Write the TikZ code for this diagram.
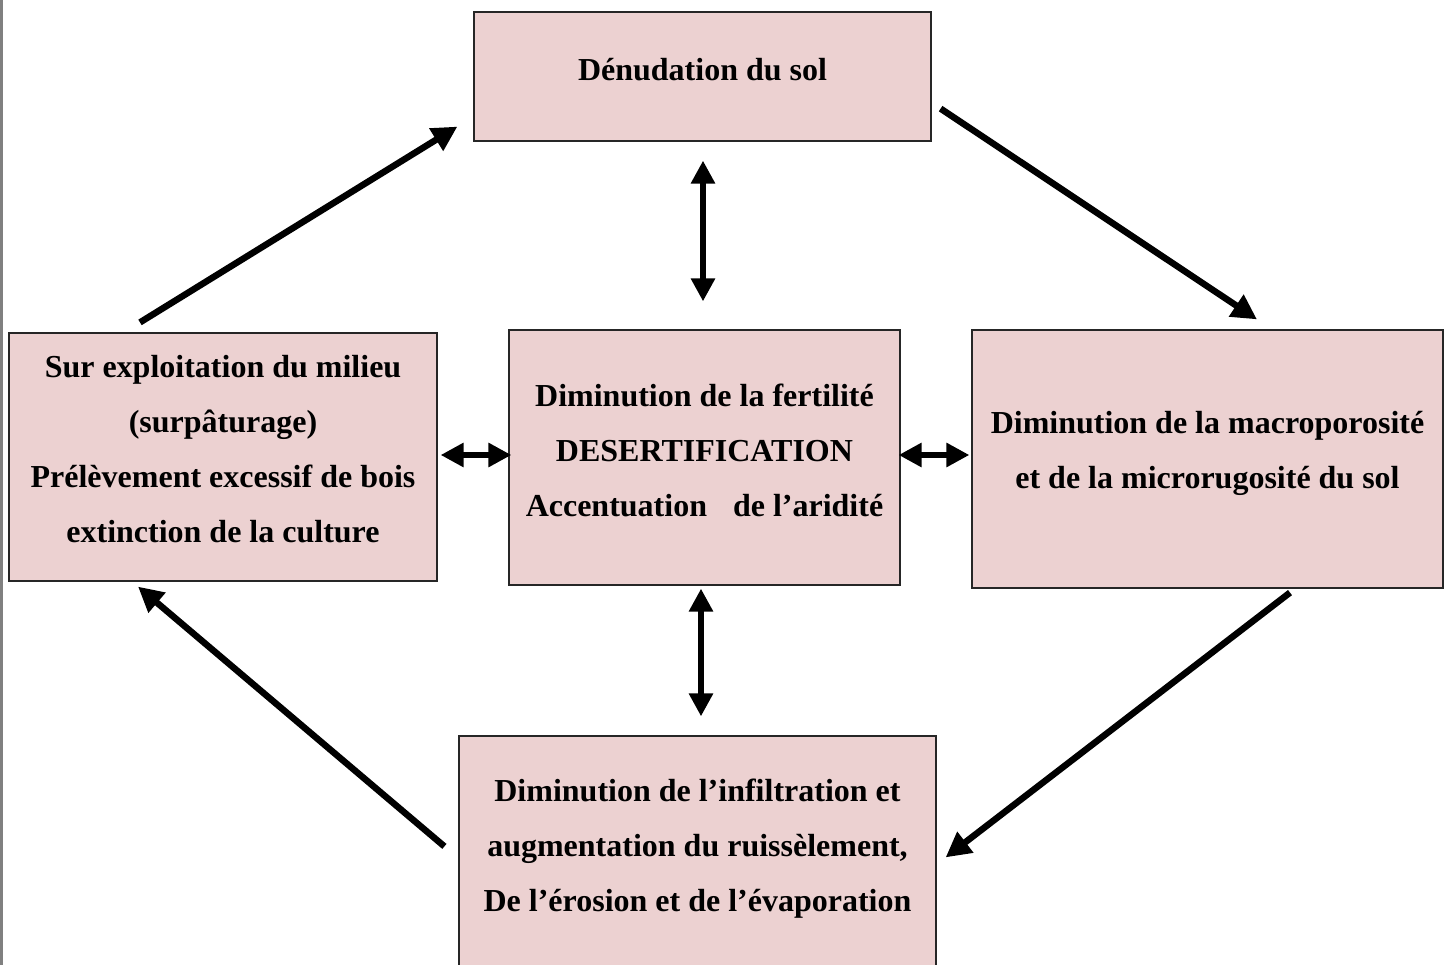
\documentclass[tikz,border=0pt]{standalone}
\usepackage{fontspec}
\setmainfont{Liberation Serif}
\usetikzlibrary{arrows.meta,calc}
\definecolor{boxpink}{RGB}{236,209,209}
\tikzset{
 box/.style={draw=black!85, line width=1.2pt, fill=boxpink, inner sep=0pt},
 txt/.style={inner sep=0pt, font=\bfseries\fontsize{32}{55}\selectfont, align=center},
 flow/.style={line width=6.5pt, -{Triangle[length=25pt,width=25pt]}},
 both/.style={line width=6.5pt, {Triangle[length=23pt,width=23pt]}-{Triangle[length=23pt,width=23pt]}},
}
\begin{document}
\begin{tikzpicture}[x=1pt,y=-1pt]
\useasboundingbox (0,0) rectangle (1449,965);
\clip (0,0) rectangle (1449,965);
\fill[white] (0,0) rectangle (1449,965);
\draw[line width=3pt, black!50] (1.5,0) -- (1.5,965);
\node[box, minimum width=457pt, minimum height=129pt] (top) at (702.5,76.5) {};
\node[txt] (toptxt) at (702.5,69.5) {Dénudation du sol};
\node[box, minimum width=428pt, minimum height=248pt] (left) at (223,457) {};
\node[txt] (lefttxt) at (223,449.5) {Sur exploitation du milieu\\(surpâturage)\\Prélèvement excessif de bois\\extinction de la culture};
\node[box, minimum width=391pt, minimum height=255pt] (ctr) at (704.5,457.5) {};
\node[txt] (ctrtxt) at (704.5,450.5) {Diminution de la fertilité\\DESERTIFICATION\\Accentuation\hspace{18pt} de l’aridité};
\node[box, minimum width=471pt, minimum height=258pt] (right) at (1207.5,459) {};
\node[txt] (righttxt) at (1207.5,453.5) {Diminution de la macroporosité\\et de la microrugosité du sol};
\node[box, minimum width=477pt, minimum height=260pt] (bot) at (697.5,866) {};
\node[txt] (bottxt) at (697.5,848.5) {Diminution de l’infiltration et\\augmentation du ruissèlement,\\De l’érosion et de l’évaporation};
% cycle arrows
\draw[flow] ($(left.north)+(-83,-10)$) -- ($(top.south west)+(-16,-15)$);
\draw[flow] ($(top.south east)+(9,-33)$) -- ($(right.north)+(49.5,-10)$);
\draw[flow] ($(right.south)+(82.5,4)$) -- ($(bot.north east)+(9,122)$);
\draw[flow] ($(bot.north west)+(-14,111)$) -- ($(left.south)+(-85,5)$);
% double arrows
\draw[both] ($(top.south)+(0.5,19)$) -- ($(ctr.north)+(-1.5,-28)$);
\draw[both] ($(ctr.south)+(-3.5,3)$) -- ($(bot.north)+(3.5,-19)$);
\draw[both] ($(left.east)+(3,-2)$) -- ($(ctr.west)+(3,-2.5)$);
\draw[both] ($(ctr.east)+(-2,-2.5)$) -- ($(right.west)+(-2,-4)$);
\end{tikzpicture}
\end{document}
